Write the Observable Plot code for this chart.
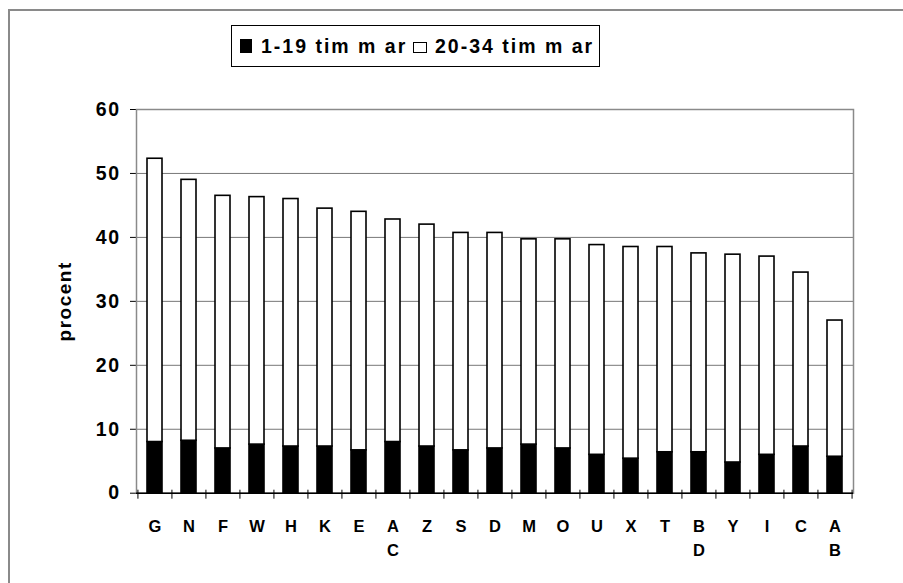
<!DOCTYPE html>
<html>
<head>
<meta charset="utf-8">
<script src="https://cdn.jsdelivr.net/npm/d3@7"></script>
<script src="https://cdn.jsdelivr.net/npm/@observablehq/plot@0.6"></script>
<style>
  html, body { margin: 0; padding: 0; background: #fff; }
  #wrap { position: relative; width: 903px; height: 583px; overflow: hidden; background: #fff; }
  #frame { position: absolute; left: 8px; top: 9px; width: 900px; height: 580px; border-top: 2px solid #8a8a8a; border-left: 2px solid #8a8a8a; box-sizing: border-box; }
  #chart { position: absolute; left: 0; top: 0; }
  #legend { position: absolute; left: 231px; top: 25px; width: 369px; height: 42px; border: 1px solid #000; background: #fff; box-sizing: border-box; }
  #legend .sw { position: absolute; box-sizing: border-box; }
  #legend .lbl { position: absolute; font: bold 19.5px "Liberation Sans", Arial, sans-serif; letter-spacing: 2px; line-height: 1.15; white-space: pre; color: #000; }
</style>
</head>
<body>
<div id="wrap">
  <div id="frame"></div>
  <div id="chart"></div>
  <div id="legend"></div>
</div>
<script>
const categories = ["G","N","F","W","H","K","E","AC","Z","S","D","M","O","U","X","T","BD","Y","I","C","AB"];
const low  = [8.0, 8.2, 7.0, 7.6, 7.3, 7.3, 6.7, 8.0, 7.3, 6.7, 7.0, 7.6, 7.0, 6.0, 5.4, 6.4, 6.4, 4.8, 6.0, 7.3, 5.7];
const high = [44.3, 40.8, 39.5, 38.7, 38.7, 37.2, 37.3, 34.8, 34.7, 34.0, 33.7, 32.1, 32.7, 32.8, 33.1, 32.1, 31.1, 32.5, 31.0, 27.2, 21.3];
const seriesNames = ["1-19 tim m ar", "20-34 tim m ar"];
const seriesColors = ["#000000", "#ffffff"];
const yTicks = [0, 10, 20, 30, 40, 50, 60];
const yLabel = "procent";

const rows = categories.flatMap((c, i) => [
  {cat: c, series: seriesNames[0], value: low[i]},
  {cat: c, series: seriesNames[1], value: high[i]}
]);

const W = 903, H = 583, mL = 136, mR = 50, mT = 109, mB = 90.3;
const step = (W - mL - mR) / categories.length;

const chart = Plot.plot({
  width: W, height: H,
  marginLeft: mL, marginRight: mR, marginTop: mT, marginBottom: mB,
  x: {domain: categories, paddingInner: 0.55, paddingOuter: 0.275, axis: null},
  y: {domain: [0, 60], ticks: yTicks, tickSize: 6, tickFormat: () => "", label: null, line: true},
  color: {domain: seriesNames, range: seriesColors},
  style: {fontFamily: "'Liberation Sans', Arial, sans-serif", fontWeight: "bold", fontSize: "16px", color: "#000", background: "transparent", letterSpacing: "1.5px", overflow: "visible"},
  marks: [
    Plot.ruleY(yTicks.slice(1), {y: d => d, stroke: "#777", strokeWidth: 1}),
    Plot.frame({stroke: "#8a8a8a", strokeWidth: 1.5}),
    Plot.barY(rows, {x: "cat", y: "value", fill: "series", stroke: "#000", strokeWidth: 1.6}),
    Plot.ruleY([0], {stroke: "#000", strokeWidth: 1.5}),
    Plot.ruleX(categories, {x: d => d, dx: -step / 2, y1: 0, y2: 0, insetTop: -3, insetBottom: -6, stroke: "#000", strokeWidth: 1}),
    Plot.ruleX(categories.slice(-1), {x: d => d, dx: step / 2, y1: 0, y2: 0, insetTop: -3, insetBottom: -6, stroke: "#000", strokeWidth: 1}),
    Plot.text(yTicks, {frameAnchor: "left", y: d => d, text: d => String(d), textAnchor: "end", lineAnchor: "middle", dx: -16, fontSize: 19.5, fontWeight: "bold"}),
    Plot.text(categories, {x: d => d, y: 0, text: d => d.split("").join("\n"), lineAnchor: "top", lineHeight: 1.45, dy: 22.3, dx: 0.75, fontSize: 16.5}),
    Plot.text([yLabel], {frameAnchor: "left", text: d => d, rotate: -90, textAnchor: "middle", dx: -72, lineAnchor: "middle", fontSize: 19})
  ]
});
document.getElementById("chart").appendChild(chart);

// legend (HTML overlay) built from the series arrays
const legend = document.getElementById("legend");
const legendItems = [
  {sw: {left: 8, top: 12.5, width: 12, height: 14}, lbl: {left: 29, top: 9}},
  {sw: {left: 181, top: 15.5, width: 14, height: 11}, lbl: {left: 203, top: 9}}
];
seriesNames.forEach((name, i) => {
  const it = legendItems[i];
  const sw = document.createElement("div");
  sw.className = "sw";
  Object.assign(sw.style, {left: it.sw.left + "px", top: it.sw.top + "px", width: it.sw.width + "px", height: it.sw.height + "px", background: seriesColors[i], border: "1.5px solid #000"});
  legend.appendChild(sw);
  const lbl = document.createElement("div");
  lbl.className = "lbl";
  lbl.textContent = name;
  Object.assign(lbl.style, {left: it.lbl.left + "px", top: it.lbl.top + "px"});
  legend.appendChild(lbl);
});
</script>
</body>
</html>
